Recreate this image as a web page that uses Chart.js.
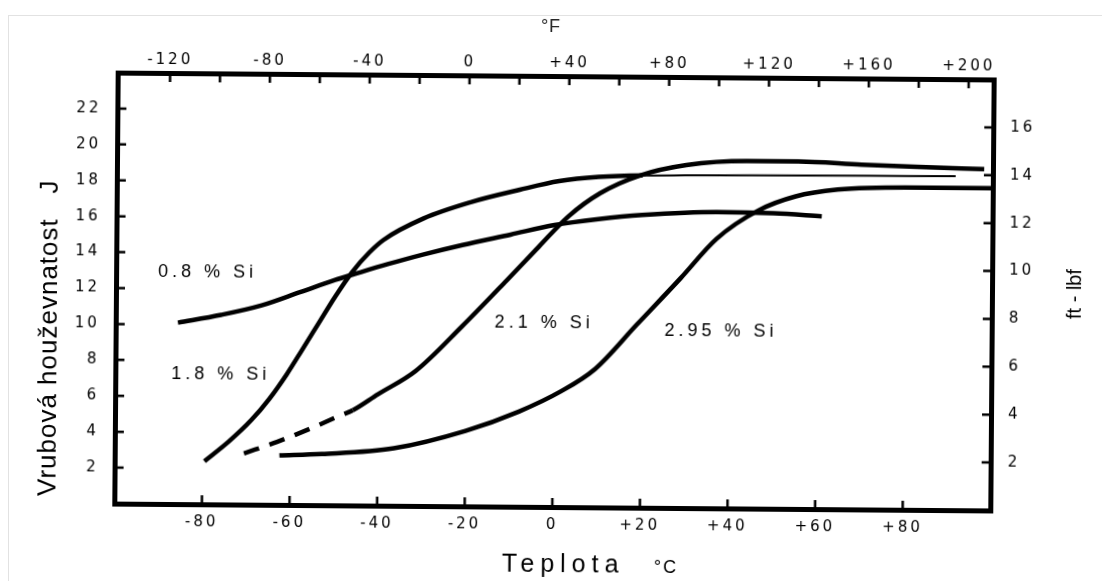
<!DOCTYPE html>
<html>
<head>
<meta charset="utf-8">
<script src="https://cdn.jsdelivr.net/npm/chart.js"></script>
<style>
  html, body { margin: 0; padding: 0; background: #fff; }
  #wrap { width: 1102px; height: 581px; position: relative; overflow: hidden; }
  #frame { position: absolute; left: 8px; top: 15px; right: -2px; bottom: -2px;
           border-left: 1px solid #e2e2e2; border-top: 1px solid #e2e2e2; }
  /* the scanned figure is turned a little clockwise */
  #myChart { position: relative; transform: rotate(0.45deg); transform-origin: 551px 290px; }
</style>
</head>
<body>
<div id="wrap"><div id="frame"></div><canvas id="myChart"></canvas></div>
<script>
// teplota (°C) / vrubova houzevnatost (J)
var si08T = [-85.8, -76, -66.7, -58, -50, -45.4, -38, -30, -21, -10, 0, 10, 20, 37, 50, 61];
var si08J = [10.1, 10.55, 11.1, 11.85, 12.55, 12.9, 13.45, 14.0, 14.55, 15.15, 15.7, 16.05, 16.3, 16.5, 16.45, 16.3];

var si18T = [-79.5, -74, -68.9, -64.8, -60.8, -57.5, -53.5, -50, -46.1, -42.2, -39, -30, -19, -8, 1, 10, 20, 91.5];
var si18J = [2.4, 3.5, 4.7, 5.9, 7.3, 8.6, 10.2, 11.6, 13.0, 14.1, 14.8, 16.0, 16.95, 17.65, 18.15, 18.4, 18.5, 18.6];

var si21T = [-70.5, -63, -55, -48.6, -45.7, -40, -31.5, -21, -10.8, -3.5, 3.2, 10.4, 19.4, 30, 43.8, 55.5, 70, 82.7, 98];
var si21J = [2.85, 3.5, 4.3, 5.0, 5.3, 6.2, 7.5, 10.0, 12.6, 14.5, 16.2, 17.5, 18.5, 19.1, 19.35, 19.35, 19.2, 19.1, 19.0];

var si295T = [-62.4, -52.7, -36.3, -20, -7.8, 1.8, 9.5, 19, 28.9, 37, 46.5, 55, 64.6, 80, 100];
var si295J = [2.75, 2.85, 3.2, 4.2, 5.3, 6.45, 7.7, 10.2, 12.8, 15.0, 16.6, 17.4, 17.8, 17.95, 17.95];

var dashedUntil = -45.7;   // 2.1 % Si is dashed at low temperatures
var thinFrom = 20;         // 1.8 % Si continues as a thin line

// axes
var celsiusTicks = [-80, -60, -40, -20, 0, 20, 40, 60, 80];
var fahrenheitLabels = [-120, -80, -40, 0, 40, 80, 120, 160, 200];
var fahrenheitMarks = [-120, -100, -80, -60, -40, -20, 0, 20, 40, 60, 80, 100, 120, 140, 160, 180, 200];
var jouleTicks = [2, 4, 6, 8, 10, 12, 14, 16, 18, 20, 22];
var ftlbfTicks = [2, 4, 6, 8, 10, 12, 14, 16];

// curve labels (in °C / J)
var labelText = ["0.8 % Si", "1.8 % Si", "2.1 % Si", "2.95 % Si"];
var labelT = [-90.4, -87.2, -13.5, 25.3];
var labelJ = [12.9, 7.24, 10.25, 9.86];

var FONT = "'Liberation Sans', Arial, Helvetica, sans-serif";
var TICKFONT = "'DejaVu Sans', sans-serif";
Chart.defaults.font.family = FONT;
Chart.defaults.color = "#000";

function pts(t, j) {
  return t.map(function(v, i){ return {x: v, y: j[i]}; });
}

function curve(label, data) {
  return {
    label: label,
    data: data,
    borderColor: "#000",
    borderWidth: 4.5,
    pointRadius: 0,
    fill: false,
    cubicInterpolationMode: "monotone"
  };
}

var ds08 = curve("0.8 % Si", pts(si08T, si08J));
var ds18 = curve("1.8 % Si", pts(si18T, si18J));
ds18.segment = { borderWidth: function(c){ return c.p0.parsed.x >= thinFrom ? 2 : 4.5; } };
var ds21 = curve("2.1 % Si", pts(si21T, si21J));
ds21.segment = { borderDash: function(c){ return c.p1.parsed.x <= dashedUntil ? [16, 11] : undefined; } };
var ds295 = curve("2.95 % Si", pts(si295T, si295J));

function signed(v) { return v > 0 ? "+" + v : String(v); }

function fixSize(w, h) {
  return function(scale) {
    if (w) scale.width = w;
    if (h) scale.height = h;
  };
}

function axis(pos, min, max, step, size, pad, cb) {
  var horiz = pos === "top" || pos === "bottom";
  return {
    type: "linear",
    position: pos,
    min: min,
    max: max,
    grid: { display: false, drawTicks: false, lineWidth: 5 },
    border: { display: true, color: "#000", width: 5 },
    ticks: {
      stepSize: step,
      includeBounds: false,
      autoSkip: false,
      maxRotation: 0,
      minRotation: 0,
      padding: pad,
      font: { family: TICKFONT, size: 15 },
      callback: cb
    },
    afterFit: horiz ? fixSize(0, size) : fixSize(size, 0)
  };
}

var paper = {
  id: "paper",
  beforeDraw: function(chart) {
    chart.ctx.letterSpacing = "3px";
  },
  afterDraw: function(chart) {
    var ctx = chart.ctx;
    var a = chart.chartArea;
    var s = chart.scales;
    ctx.save();
    ctx.letterSpacing = "0px";
    ctx.strokeStyle = "#000";
    ctx.lineWidth = 2.5;
    ctx.beginPath();
    celsiusTicks.forEach(function(v){
      var p = s.x.getPixelForValue(v);
      ctx.moveTo(p, a.bottom); ctx.lineTo(p, a.bottom - 9);
    });
    fahrenheitMarks.forEach(function(v){
      var p = s.x2.getPixelForValue(v);
      ctx.moveTo(p, a.top); ctx.lineTo(p, a.top + 9);
    });
    jouleTicks.forEach(function(v){
      var p = s.y.getPixelForValue(v);
      ctx.moveTo(a.left, p); ctx.lineTo(a.left + 9, p);
    });
    ftlbfTicks.forEach(function(v){
      var p = s.y2.getPixelForValue(v);
      ctx.moveTo(a.right, p); ctx.lineTo(a.right - 9, p);
    });
    ctx.stroke();

    ctx.fillStyle = "#000";
    // curve labels
    ctx.font = "18px " + FONT;
    ctx.letterSpacing = "4px";
    ctx.textAlign = "left";
    ctx.textBaseline = "middle";
    labelText.forEach(function(t, i){
      ctx.fillText(t, s.x.getPixelForValue(labelT[i]), s.y.getPixelForValue(labelJ[i]));
    });

    ctx.textBaseline = "alphabetic";
    // left title
    ctx.save();
    ctx.translate(57, 500);
    ctx.rotate(-Math.PI / 2);
    ctx.font = "26px " + FONT;
    ctx.letterSpacing = "1px";
    ctx.fillText("Vrubová houževnatost   J", 0, 0);
    ctx.restore();
    // right title
    ctx.save();
    ctx.translate(1081, 315);
    ctx.rotate(-Math.PI / 2);
    ctx.font = "20px " + FONT;
    ctx.letterSpacing = "0px";
    ctx.fillText("ft - lbf", 0, 0);
    ctx.restore();
    // top title
    ctx.font = "18px " + FONT;
    ctx.letterSpacing = "1px";
    ctx.fillStyle = "#222";
    ctx.textAlign = "center";
    ctx.fillText("°F", 549, 32);
    // bottom title
    ctx.fillStyle = "#000";
    ctx.textAlign = "left";
    ctx.font = "25px " + FONT;
    ctx.letterSpacing = "6px";
    ctx.fillText("Teplota", 504, 572);
    ctx.font = "18px " + FONT;
    ctx.letterSpacing = "2px";
    ctx.fillText("°C", 656, 572);
    ctx.restore();
  }
};

new Chart("myChart", {
  type: "line",
  data: { datasets: [ds08, ds18, ds21, ds295] },
  options: {
    responsive: true,
    maintainAspectRatio: false,
    animation: false,
    layout: { padding: 0 },
    plugins: { legend: { display: false }, tooltip: { enabled: false } },
    scales: {
      x: axis("bottom", -100, 100, 20, 74, 9, function(v){
        return celsiusTicks.indexOf(v) >= 0 ? signed(v) : "";
      }),
      x2: axis("top", -141, 210, 20, 76, 4, function(v){
        return fahrenheitLabels.indexOf(v) >= 0 ? signed(v) : "";
      }),
      y: axis("left", 0, 24, 2, 116, 16, function(v){
        return jouleTicks.indexOf(v) >= 0 ? String(v) : "";
      }),
      y2: axis("right", 0, 18, 2, 110, 17, function(v){
        return ftlbfTicks.indexOf(v) >= 0 ? String(v) : "";
      })
    }
  },
  plugins: [paper]
});
</script>
</body>
</html>
